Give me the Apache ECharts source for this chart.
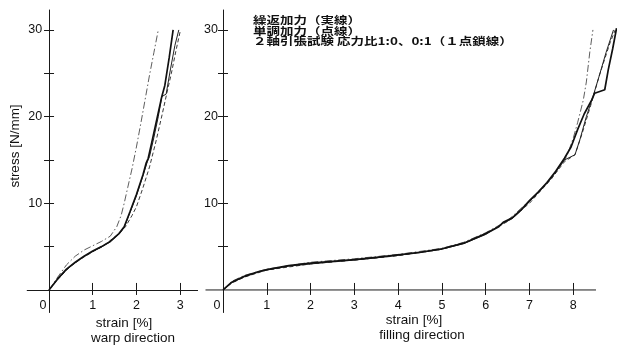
<!DOCTYPE html>
<html>
<head>
<meta charset="utf-8">
<script src="https://cdn.jsdelivr.net/npm/echarts@6/dist/echarts.min.js"></script>
<style>html,body{margin:0;padding:0;background:#fff;}#c{width:617px;height:347px;}</style>
</head>
<body>
<div id="c"></div>
<script>
// ---- data (strain %, stress N/mm) ----
const warpXTicks = [1, 2, 3];
const warpXLabels = [0, 1, 2, 3];
const fillXTicks = [1, 2, 3, 4, 5, 6, 7, 8];
const fillXLabels = [0, 1, 2, 3, 4, 5, 6, 7, 8];
const yTicks = [5, 10, 15, 20, 25, 30];
const yLabels = [10, 20, 30];
const fillXAxisLine = [[-0.4, 0], [8.52, 0]];

// warp direction
const warpCyclicA = [[0,0],[0.2,1.3],[0.4,2.4],[0.6,3.2],[0.8,3.9],[1.0,4.5],[1.2,5.0],[1.4,5.6],[1.6,6.5],[1.72,7.3],[1.85,9.0],[2.0,11.0],[2.15,13.3],[2.22,14.6],[2.27,15.2],[2.35,17.0],[2.45,19.3],[2.55,21.6],[2.58,22.3],[2.65,23.6],[2.75,26.8],[2.84,30]];
const warpCyclicB = [[0,0],[0.2,1.25],[0.4,2.35],[0.6,3.15],[0.8,3.85],[1.0,4.45],[1.2,4.95],[1.4,5.55],[1.6,6.45],[1.72,7.2],[1.85,8.9],[2.0,10.9],[2.15,13.2],[2.25,14.8],[2.3,15.4],[2.4,17.6],[2.5,20.0],[2.58,22.3],[2.68,22.6],[2.78,25.5],[2.88,28.2],[2.97,30]];
const warpMono = [[0,0],[0.2,1.2],[0.5,2.8],[0.8,3.8],[1.0,4.4],[1.3,5.3],[1.6,6.5],[1.75,7.3],[1.9,8.6],[2.0,9.6],[2.15,11.8],[2.3,14.2],[2.45,17.2],[2.6,20.5],[2.7,22.8],[2.8,25.0],[2.9,27.5],[3.0,29.8]];
const warpBiax = [[0,0],[0.2,1.5],[0.4,2.9],[0.6,3.9],[0.8,4.6],[1.0,5.1],[1.2,5.6],[1.4,6.2],[1.55,7.3],[1.65,8.6],[1.72,10.0],[1.8,11.8],[1.9,14.0],[2.0,16.5],[2.1,19.2],[2.2,22.0],[2.3,24.8],[2.4,27.4],[2.5,30]];

// filling direction
const fillCyclicA = [[0,0],[0.2,0.9],[0.5,1.6],[0.8,2.1],[1.0,2.35],[1.5,2.8],[2.0,3.1],[2.5,3.3],[3.0,3.5],[3.5,3.75],[4.0,4.05],[4.5,4.35],[5.0,4.75],[5.5,5.4],[6.0,6.5],[6.3,7.3],[6.4,7.8],[6.6,8.3],[6.8,9.2],[7.0,10.3],[7.2,11.3],[7.4,12.4],[7.6,13.7],[7.8,15.2],[7.95,16.5],[8.1,18.5],[8.25,20.3],[8.42,21.9],[8.49,22.7],[8.72,23.1],[8.8,25.4],[8.9,27.8],[8.99,30.2]];
const fillCyclicB = [[0,0],[0.2,0.85],[0.5,1.55],[0.8,2.05],[1.0,2.3],[1.5,2.75],[2.0,3.0],[2.5,3.25],[3.0,3.45],[3.5,3.7],[4.0,4.0],[4.5,4.3],[5.0,4.7],[5.5,5.35],[6.0,6.4],[6.4,7.7],[6.6,8.2],[6.8,9.1],[7.0,10.2],[7.2,11.2],[7.4,12.3],[7.6,13.6],[7.8,15.0],[8.04,15.6],[8.15,17.3],[8.3,20.0],[8.45,22.3],[8.6,24.8],[8.75,27.4],[8.92,30]];
const fillMono = [[0,0],[0.2,0.8],[0.5,1.5],[1.0,2.3],[2.0,3.0],[3.0,3.45],[4.0,3.95],[5.0,4.7],[5.5,5.4],[6.0,6.5],[6.5,7.9],[7.0,10.0],[7.5,12.8],[7.8,14.8],[8.04,15.6],[8.2,18.0],[8.4,21.3],[8.6,24.8],[8.84,28.5],[8.96,30]];
const fillBiax = [[0,0],[0.2,1.0],[0.5,1.7],[1.0,2.4],[2.0,3.2],[3.0,3.6],[4.0,4.1],[5.0,4.8],[5.5,5.5],[6.0,6.6],[6.5,8.0],[7.0,10.3],[7.5,12.9],[7.85,15.4],[8.0,17.5],[8.1,19.3],[8.23,21.9],[8.3,24.0],[8.38,27.5],[8.45,30]];

const legendLines = ['繰返加力（実線）', '単調加力（点線）', '２軸引張試験 応力比1:0、0:1（１点鎖線）'];
const warpName = ['strain [%]', 'warp direction'];
const fillName = ['strain [%]', 'filling direction'];
const yName = 'stress [N/mm]';

// ---- chart ----
const FONT = 'Liberation Sans, Arial, sans-serif';
const CJK = 'Noto Sans CJK JP, sans-serif';
const INK = '#1a1a1a';
const chart = echarts.init(document.getElementById('c'), null, {renderer: 'canvas'});

function xAxes(grid, min, max, ticks, labels, zeroIdx, lineShow) {
  return [
    {type:'value', gridIndex:grid, min:min, max:max, position:'bottom',
     axisLine:{show:lineShow, onZero:true, onZeroAxisIndex:zeroIdx, lineStyle:{color:INK, width:1}},
     axisTick:{show:true, customValues:ticks, length:5, lineStyle:{color:INK, width:1}},
     axisLabel:{customValues:labels, margin:-13.5, color:'#111', fontFamily:FONT, fontSize:12.5,
       formatter:v => v === 0 ? '{z|0}' : String(v),
       rich:{z:{fontFamily:FONT, fontSize:12.5, color:'#111', padding:[0,12,0,0]}}},
     splitLine:{show:false}},
    {type:'value', gridIndex:grid, min:min, max:max, position:'top',
     axisLine:{show:false, onZero:true, onZeroAxisIndex:zeroIdx},
     axisTick:{show:true, customValues:ticks, length:7, lineStyle:{color:INK, width:1}},
     axisLabel:{show:false}, splitLine:{show:false}}
  ];
}
function yAxes(grid, zeroIdx, labelMargin) {
  return [
    {type:'value', gridIndex:grid, min:-2.6, max:32.3, position:'left',
     axisLine:{onZero:true, onZeroAxisIndex:zeroIdx, lineStyle:{color:INK, width:1}},
     axisTick:{show:true, customValues:yTicks, length:5, lineStyle:{color:INK, width:1}},
     axisLabel:{customValues:yLabels, margin:labelMargin, color:'#111', fontFamily:FONT, fontSize:12.5},
     splitLine:{show:false}},
    {type:'value', gridIndex:grid, min:-2.6, max:32.3, position:'right',
     axisLine:{show:false, onZero:true, onZeroAxisIndex:zeroIdx},
     axisTick:{show:true, customValues:yTicks, length:5, lineStyle:{color:INK, width:1}},
     axisLabel:{show:false}, splitLine:{show:false}}
  ];
}
function line(data, xi, yi, style) {
  return {type:'line', data:data, xAxisIndex:xi, yAxisIndex:yi, showSymbol:false, symbol:'none',
          silent:true, lineStyle:style, z:3};
}
const SOLID_THICK = {color:'#111', width:1.7, type:'solid'};
const SOLID_THIN = {color:'#222', width:1.0, type:'solid'};
const DASH = {color:'#222', width:0.9, type:[4,2.5]};
const DASHDOT = {color:'#333', width:0.8, type:[7,2.5,1.5,2.5]};
const AXIS = {color:INK, width:1, type:'solid'};

function legendText(i, y) {
  return {type:'text', x:253, y:y, scaleX:1, scaleY:0.78,
          style:{text:legendLines[i], fontFamily:CJK, fontSize:13.5, fontWeight:'bold', fill:'#111', align:'left', verticalAlign:'middle'}};
}
function nameText(t, x, y, size, rot) {
  return {type:'text', x:x, y:y, rotation:rot || 0,
          style:{text:t, fontFamily:FONT, fontSize:size, fill:'#111', align:'center', verticalAlign:'middle'}};
}

const option = {
  animation:false,
  backgroundColor:'#fff',
  grid:[
    {left:27.2, top:10, width:170.4, height:302.5},
    {left:205.5, top:10, width:411.5, height:302.5}
  ],
  xAxis:[].concat(xAxes(0,-0.5,3.4,warpXTicks,warpXLabels,0,true), xAxes(1,-0.4,9.0,fillXTicks,fillXLabels,2,false)),
  yAxis:[].concat(yAxes(0,0,-15), yAxes(1,2,-12.5)),
  series:[
    line(fillXAxisLine,2,2,AXIS),
    line(warpBiax,0,0,DASHDOT), line(warpMono,0,0,DASH), line(warpCyclicB,0,0,SOLID_THIN), line(warpCyclicA,0,0,SOLID_THICK),
    line(fillBiax,2,2,DASHDOT), line(fillMono,2,2,DASH), line(fillCyclicB,2,2,SOLID_THIN), line(fillCyclicA,2,2,SOLID_THICK)
  ],
  graphic:[
    nameText(yName, 15, 146, 13.5, Math.PI/2),
    nameText(warpName[0], 124, 323, 13.5),
    nameText(warpName[1], 133, 338, 13.5),
    nameText(fillName[0], 414, 320, 13.5),
    nameText(fillName[1], 422, 335, 13.5),
    legendText(0, 20.5), legendText(1, 31), legendText(2, 41.5)
  ]
};
chart.setOption(option);
</script>
</body>
</html>
